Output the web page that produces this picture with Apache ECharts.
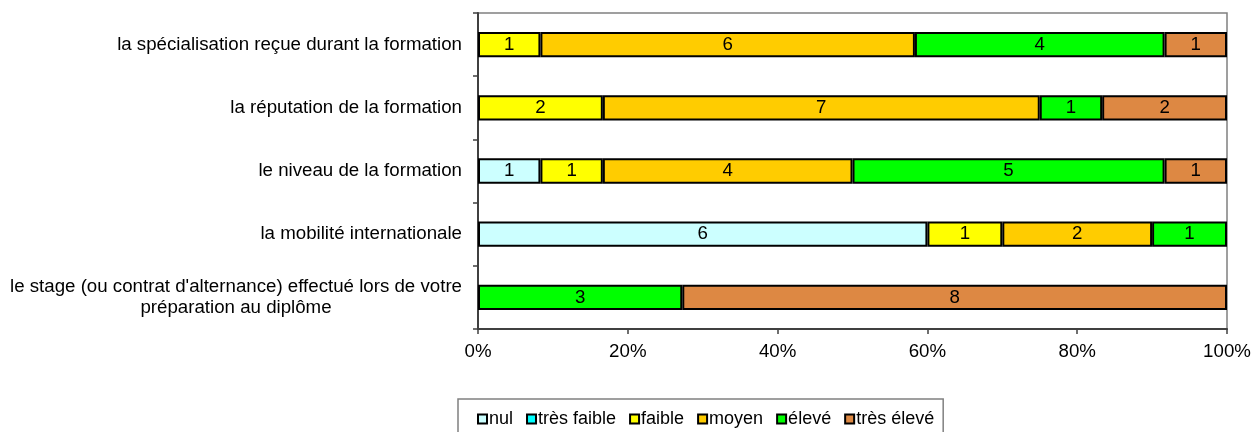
<!DOCTYPE html>
<html>
<head>
<meta charset="utf-8">
<script src="https://cdn.jsdelivr.net/npm/echarts@6/dist/echarts.min.js"></script>
<style>
  html, body { margin: 0; padding: 0; background: #fff; }
  #chart { width: 1254px; height: 432px; }
</style>
</head>
<body>
<div id="chart"></div>
<script>
// Categories, listed top to bottom
const categories = [
  "la spécialisation reçue durant la formation",
  "la réputation de la formation",
  "le niveau de la formation",
  "la mobilité internationale",
  "le stage (ou contrat d'alternance) effectué lors de votre\npréparation au diplôme"
];

// Answer counts per level, one value per category
const nul        = [0, 0, 1, 6, 0];
const tresFaible = [0, 0, 0, 0, 0];
const faible     = [1, 2, 1, 1, 0];
const moyen      = [6, 7, 4, 2, 0];
const eleve      = [4, 1, 5, 1, 3];
const tresEleve  = [1, 2, 1, 0, 8];

const seriesNames = ["nul", "très faible", "faible", "moyen", "élevé", "très élevé"];
const xTickLabels = ["0%", "20%", "40%", "60%", "80%", "100%"];

const counts = [nul, tresFaible, faible, moyen, eleve, tresEleve];
const colors = ["#CCFFFF", "#00FFFF", "#FFFF00", "#FFCC00", "#00FF00", "#DD8843"];

const totals = categories.map((_, i) => counts.reduce((s, arr) => s + arr[i], 0));

const FONT = "Liberation Sans, Arial, sans-serif";
const FS = 18.7;      // axis and bar labels
const FS_LEG = 18;    // legend

// width of the longest line of a wrapped label, so every line block is right-aligned to the axis
function textWidth(str, size) {
  const ctx = document.createElement("canvas").getContext("2d");
  ctx.font = size + "px " + FONT;
  return Math.ceil(ctx.measureText(str).width);
}

const series = counts.map((arr, k) => ({
  name: seriesNames[k],
  type: "bar",
  stack: "total",
  barWidth: "40%",
  itemStyle: { color: colors[k], borderColor: "#000", borderWidth: 2 },
  label: {
    show: true,
    position: "inside",
    color: "#000",
    fontFamily: FONT,
    fontSize: FS,
    formatter: p => String(arr[p.dataIndex])
  },
  // shares in percent; empty levels are left out so no zero-width outline is drawn
  data: arr.map((v, i) => v === 0 ? null : v / totals[i] * 100)
}));

const wrapped = categories.find(c => c.indexOf("\n") >= 0);
const wrapWidth = Math.max.apply(null, wrapped.split("\n").map(l => textWidth(l, FS)));

const chart = echarts.init(document.getElementById("chart"), null, { renderer: "canvas" });
chart.setOption({
  animation: false,
  backgroundColor: "#fff",
  textStyle: { fontFamily: FONT },
  grid: {
    left: 478, right: 27, top: 13, bottom: 103,
    show: true, borderColor: "#808080", borderWidth: 1.5, backgroundColor: "transparent"
  },
  xAxis: {
    type: "value",
    min: 0, max: 100, interval: 20,
    axisLine: { show: true, lineStyle: { color: "#404040", width: 2 } },
    axisTick: { show: true, length: 5, lineStyle: { color: "#404040", width: 1.5 } },
    splitLine: { show: false },
    axisLabel: {
      margin: 13,
      color: "#000", fontFamily: FONT, fontSize: FS,
      formatter: v => xTickLabels[Math.round(v / 20)]
    }
  },
  yAxis: {
    type: "category",
    inverse: true,
    data: categories,
    axisLine: { show: true, lineStyle: { color: "#404040", width: 2 } },
    axisTick: { show: true, length: 5, lineStyle: { color: "#404040", width: 1.5 } },
    axisLabel: {
      margin: 16,
      color: "#000", fontFamily: FONT, fontSize: FS,
      formatter: v => v.indexOf("\n") >= 0
        ? v.split("\n").map(l => "{c|" + l + "}").join("\n")
        : v,
      rich: {
        c: { width: wrapWidth, align: "center", color: "#000", fontFamily: FONT, fontSize: FS, lineHeight: 21 }
      }
    }
  },
  legend: {
    data: seriesNames,
    left: 458, top: 399,
    orient: "horizontal",
    icon: "rect",
    itemWidth: 9, itemHeight: 9,
    itemGap: 13,
    itemStyle: { borderColor: "#000", borderWidth: 2 },
    padding: [11, 9, 11, 19],
    borderColor: "#808080", borderWidth: 1.5,
    textStyle: { color: "#000", fontFamily: FONT, fontSize: FS_LEG, padding: [0, 0, 0, -3] }
  },
  series: series
});
</script>
</body>
</html>
